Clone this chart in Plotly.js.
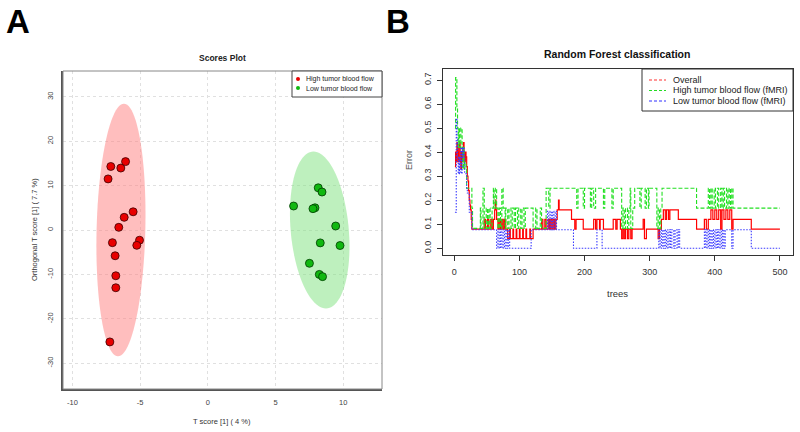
<!DOCTYPE html>
<html>
<head>
<meta charset="utf-8">
<script src="https://cdn.plot.ly/plotly-3.0.1.min.js"></script>
<style>
html,body{margin:0;padding:0;background:#fff;}
#chart{width:800px;height:432px;}
</style>
</head>
<body>
<div id="chart"></div>
<script>
// ---------- Panel A: OPLS-DA scores ----------
var highX = [-7.17,-6.43,-6.08,-7.37,-5.52,-6.18,-6.58,-7.05,-5.05,-5.25,-6.85,-6.80,-6.80,-7.24];
var highY = [14.3,13.95,15.4,11.5,4.1,2.85,0.6,-2.85,-2.3,-3.45,-5.8,-10.3,-13.0,-25.2];
var lowX  = [8.15,8.43,6.33,7.91,7.76,9.44,8.30,9.76,7.50,8.23,8.47];
var lowY  = [9.5,8.55,5.4,5.0,4.8,0.9,-2.9,-3.5,-7.5,-10.0,-10.5];
var groupNames = ['High tumor blood flow','Low tumor blood flow'];
var xTicksA = [-10,-5,0,5,10];
var yTicksA = [-30,-20,-10,0,10,20,30];

// ---------- Panel B: random forest error vs trees (change points) ----------
var oobTrees = [1,2,3,4,5,6,7,8,9,10,11,12,13,14,15,16,17,18,19,20,21,22,23,24,25,26,27,
  46,48,51,53,56,58,60,62,63,64,65,67,69,71,73,75,77,79,82,85,86,90,91,95,96,100,101,105,106,110,111,116,117,121,
  134,136,139,141,144,146,148,150,152,154,156,158,160,161,180,185,187,198,214,217,219,223,224,229,244,248,250,255,
  257,259,261,263,266,268,271,273,290,292,295,313,315,318,321,324,326,329,331,344,372,384,387,390,394,397,400,403,
  406,409,411,414,417,420,423,426,428,456,500];
var oobErr = [0.34,0.40,0.36,0.44,0.40,0.36,0.42,0.44,0.36,0.33,0.40,0.36,0.42,0.44,0.38,0.36,0.40,0.38,0.34,0.30,0.28,0.24,0.20,0.18,0.16,0.12,0.08,
  0.12,0.08,0.12,0.08,0.12,0.08,0.12,0.16,0.20,0.16,0.12,0.08,0.12,0.08,0.12,0.08,0.12,0.08,0.04,0.08,0.04,0.08,0.04,0.08,0.04,0.08,0.04,0.08,0.04,0.08,0.04,0.08,0.04,0.08,
  0.12,0.08,0.12,0.08,0.12,0.08,0.12,0.08,0.12,0.08,0.12,0.16,0.20,0.16,0.12,0.08,0.12,0.08,0.12,0.08,0.12,0.08,0.12,0.08,0.12,0.08,0.12,0.08,
  0.04,0.08,0.04,0.08,0.04,0.08,0.04,0.08,0.12,0.04,0.08,0.04,0.08,0.12,0.16,0.12,0.16,0.12,0.16,0.12,0.08,0.12,0.08,0.12,0.16,0.12,0.16,0.12,
  0.16,0.08,0.16,0.12,0.16,0.12,0.16,0.08,0.12,0.08,0.08];

var highTrees = [1,2,4,5,6,7,8,10,12,13,14,15,16,18,19,27,28,
  40,41,44,46,49,51,53,55,58,60,61,63,65,67,69,71,73,75,78,79,82,84,87,89,92,94,97,99,102,104,107,109,121,125,127,132,134,
  141,145,147,188,190,198,200,209,211,214,217,229,231,242,244,257,259,261,263,266,268,270,271,274,277,285,287,293,295,298,299,
  311,313,315,317,319,372,390,392,394,396,399,401,404,406,409,411,413,415,418,420,422,424,426,428,500];
var highErr = [0.50,0.71,0.58,0.50,0.42,0.50,0.42,0.50,0.42,0.33,0.42,0.33,0.36,0.33,0.25,0.167,0.083,
  0.167,0.083,0.25,0.083,0.167,0.083,0.167,0.083,0.167,0.25,0.167,0.25,0.167,0.083,0.167,0.083,0.25,0.167,0.083,0.167,0.083,0.167,0.083,0.167,0.083,0.167,0.083,0.167,0.083,0.167,0.083,0.167,0.083,0.167,0.083,0.167,0.083,
  0.25,0.167,0.25,0.167,0.25,0.167,0.25,0.167,0.25,0.167,0.25,0.167,0.25,0.167,0.25,0.083,0.167,0.083,0.167,0.083,0.167,0.25,0.083,0.167,0.25,0.167,0.25,0.167,0.25,0.167,0.25,
  0.083,0.167,0.083,0.167,0.25,0.167,0.25,0.167,0.25,0.167,0.25,0.167,0.25,0.167,0.25,0.167,0.25,0.167,0.25,0.167,0.25,0.167,0.25,0.167,0.167];

var lowTrees = [1,3,4,5,6,7,8,9,10,11,12,13,14,15,16,18,19,20,23,27,
  65,67,69,71,73,75,77,79,81,83,85,118,143,145,147,149,151,153,155,157,183,219,227,
  314,316,318,320,322,324,326,328,330,332,334,337,339,342,344,346,384,386,388,390,392,394,396,398,400,402,404,406,408,410,412,414,416,426,428,456,500];
var lowErr = [0.15,0.54,0.46,0.38,0.31,0.38,0.31,0.38,0.42,0.31,0.42,0.38,0.42,0.38,0.31,0.31,0.25,0.23,0.15,0.077,
  0,0.077,0,0.077,0,0.077,0,0.077,0,0.077,0,0.077,0.154,0.077,0.154,0.077,0.154,0.077,0.154,0.077,0,0.077,0,
  0.077,0,0.077,0,0.077,0,0.077,0,0.077,0,0.077,0,0.077,0,0.077,0,0.077,0,0.077,0,0.077,0,0.077,0,0.077,0,0.077,0,0.077,0,0.077,0,0.077,0,0.077,0,0];
var seriesNames = ['Overall','High tumor blood flow (fMRI)','Low tumor blood flow (fMRI)'];
var xTicksB = [0,100,200,300,400,500];
var yTicksB = [0,0.1,0.2,0.3,0.4,0.5,0.6,0.7];

// ---------- styling ----------
var FONT = 'Liberation Sans, Arial, sans-serif';
var W = 800, H = 432;
function px(x){ return x / W; }
function py(y){ return 1 - y / H; }

var redFill = '#e80000', greenFill = '#10b810';
var ellipses = [
  {cx:-6.42, cy:0, w:1.8, s:0.22, h:28.45, color:'rgba(255,125,125,0.5)'},
  {cx:8.26, cy:0, w:2.15, s:-0.46, h:17.65, color:'rgba(125,225,125,0.5)'}
];
function ellipsePath(e){
  var d = '';
  for (var i = 0; i <= 96; i++) {
    var t = 2 * Math.PI * i / 96;
    var x = e.cx + e.w * Math.cos(t) + e.s * Math.sin(t);
    var y = e.cy + e.h * Math.sin(t);
    d += (i ? 'L' : 'M') + x.toFixed(4) + ',' + y.toFixed(4);
  }
  return d + 'Z';
}

var traces = [
  {x: highX, y: highY, type:'scatter', mode:'markers', name: groupNames[0], xaxis:'x', yaxis:'y',
   marker:{size:8, color:redFill, line:{color:'#3a0000', width:0.8}}, showlegend:false},
  {x: lowX, y: lowY, type:'scatter', mode:'markers', name: groupNames[1], xaxis:'x', yaxis:'y',
   marker:{size:8, color:greenFill, line:{color:'#003a00', width:0.8}}, showlegend:false},
  {x: oobTrees, y: oobErr, type:'scatter', mode:'lines', name: seriesNames[0], xaxis:'x2', yaxis:'y2',
   line:{color:'#ff0000', width:1.2, shape:'hv'}, showlegend:false},
  {x: highTrees, y: highErr, type:'scatter', mode:'lines', name: seriesNames[1], xaxis:'x2', yaxis:'y2',
   line:{color:'#22e022', width:1.1, shape:'hv', dash:'4px,2px'}, showlegend:false},
  {x: lowTrees, y: lowErr, type:'scatter', mode:'lines', name: seriesNames[2], xaxis:'x2', yaxis:'y2',
   line:{color:'#3a3aff', width:1.1, shape:'hv', dash:'1.5px,1.5px'}, showlegend:false}
];

var shapes = [];
ellipses.forEach(function(e){
  shapes.push({type:'path', xref:'x', yref:'y', path: ellipsePath(e), fillcolor:e.color, line:{width:0}, layer:'between'});
});
// panel A box
shapes.push({type:'rect', xref:'paper', yref:'paper', x0:px(63), x1:px(382), y0:py(389), y1:py(71), line:{color:'#888', width:1}});
// legend A
shapes.push({type:'rect', xref:'paper', yref:'paper', x0:px(292), x1:px(382), y0:py(97), y1:py(71), line:{color:'#444', width:1}, fillcolor:'#fff'});
[[79, redFill],[88, greenFill]].forEach(function(m){
  shapes.push({type:'circle', xref:'paper', yref:'paper', x0:px(296), x1:px(300), y0:py(m[0]+2), y1:py(m[0]-2), fillcolor:m[1], line:{width:0}});
});
// legend B
shapes.push({type:'rect', xref:'paper', yref:'paper', x0:px(642), x1:px(793), y0:py(111), y1:py(69), line:{color:'#333', width:1}, fillcolor:'#fff'});
var legBColors = ['#ff3030','#22dd22','#3030ff'];
var legBY = [80, 90.5, 101];
for (var i = 0; i < 3; i++) {
  shapes.push({type:'line', xref:'paper', yref:'paper', x0:px(649), x1:px(666), y0:py(legBY[i]), y1:py(legBY[i]), line:{color:legBColors[i], width:1.1, dash:'3px,2px'}});
}

function ann(text, x, y, opts){
  var a = {text:text, x:px(x), y:py(y), xref:'paper', yref:'paper', showarrow:false,
           xanchor:'center', yanchor:'middle', font:{family:FONT, size:8, color:'#222'}};
  for (var k in opts) a[k] = opts[k];
  return a;
}
var annotations = [
  ann('<b>A</b>', 18, 21, {font:{family:FONT, size:33, color:'#000'}}),
  ann('<b>B</b>', 398, 21, {font:{family:FONT, size:33, color:'#000'}}),
  ann('<b>Scores Plot</b>', 222, 58, {font:{family:FONT, size:8.5, color:'#222'}}),
  ann('<b>Random Forest classification</b>', 617, 54, {font:{family:FONT, size:10.5, color:'#111'}}),
  ann('T score [1] ( 4 %)', 222, 421, {font:{family:FONT, size:7.5, color:'#333'}}),
  ann('Orthogonal T score [1] ( 7.7 %)', 34, 230, {textangle:-90, font:{family:FONT, size:7.5, color:'#333'}}),
  ann('trees', 617, 293, {font:{family:FONT, size:9.5, color:'#333'}}),
  ann('Error', 409, 160, {textangle:-90, font:{family:FONT, size:9, color:'#555'}}),
  ann(groupNames[0], 304, 79, {xanchor:'left', font:{family:FONT, size:7, color:'#222'}}),
  ann(groupNames[1], 304, 88, {xanchor:'left', font:{family:FONT, size:7, color:'#222'}})
];
for (var j = 0; j < 3; j++) {
  annotations.push(ann(seriesNames[j], 671, legBY[j], {xanchor:'left', font:{family:FONT, size:9, color:'#222'}}));
}

var layout = {
  width: W, height: H,
  margin:{l:0, r:0, t:0, b:0},
  paper_bgcolor:'#fff', plot_bgcolor:'#fff',
  showlegend:false,
  font:{family:FONT},
  xaxis:{domain:[px(63), px(382)], range:[-10.7, 12.86], anchor:'y',
    tickvals:xTicksA, ticktext:xTicksA.map(String),
    showgrid:true, gridcolor:'#e0e0e0', griddash:'dot', gridwidth:1, zeroline:false,
    showline:true, linecolor:'#555', linewidth:2,
    ticks:'outside', ticklen:5, tickcolor:'rgba(0,0,0,0)',
    tickfont:{family:FONT, size:7.5, color:'#444'}},
  yaxis:{domain:[py(389), py(71)], range:[-35.8, 35.8], anchor:'x',
    tickvals:yTicksA, ticktext:yTicksA.map(String), tickangle:-90,
    showgrid:true, gridcolor:'#e0e0e0', griddash:'dot', gridwidth:1, zeroline:false,
    showline:true, linecolor:'#555', linewidth:2,
    ticks:'outside', ticklen:5, tickcolor:'rgba(0,0,0,0)',
    tickfont:{family:FONT, size:7.5, color:'#444'}},
  xaxis2:{domain:[px(442.7), px(792.7)], range:[-17.8, 519.6], anchor:'y2',
    tickvals:xTicksB, ticktext:xTicksB.map(String),
    showgrid:false, zeroline:false, showline:true, mirror:true, linecolor:'#333', linewidth:1,
    ticks:'outside', ticklen:5, tickcolor:'#333', tickwidth:1, ticklabelstandoff:3,
    tickfont:{family:FONT, size:9, color:'#333'}},
  yaxis2:{domain:[py(255), py(69)], range:[-0.028, 0.746], anchor:'x2',
    tickvals:yTicksB, ticktext:yTicksB.map(function(v){return v.toFixed(1);}), tickangle:-90,
    showgrid:false, zeroline:false, showline:true, mirror:true, linecolor:'#333', linewidth:1,
    ticks:'outside', ticklen:5, tickcolor:'#333', tickwidth:1, ticklabelstandoff:2,
    tickfont:{family:FONT, size:9, color:'#333'}},
  shapes: shapes,
  annotations: annotations
};

Plotly.newPlot('chart', traces, layout, {displayModeBar:false, staticPlot:true});
</script>
</body>
</html>
